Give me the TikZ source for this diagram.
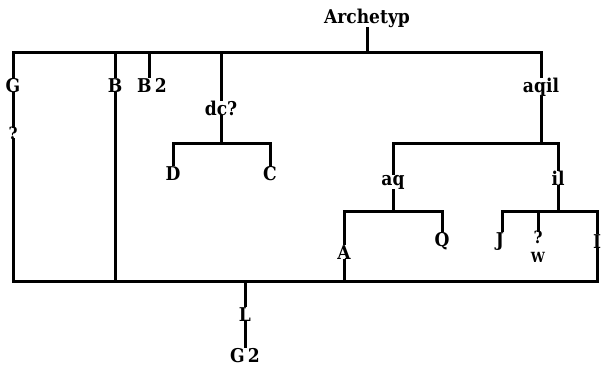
\documentclass[tikz,border=0pt]{standalone}
\usepackage{fontspec}
\setmainfont[FakeStretch=0.9]{DejaVu Serif}
\begin{document}
\begin{tikzpicture}[x=1pt,y=-1pt,
  lbl/.style={font=\fontsize{19}{19}\selectfont\bfseries, inner sep=1pt, anchor=base},
  smalllbl/.style={font=\fontsize{14}{14}\selectfont\bfseries, inner sep=1pt, anchor=base},
  qmark/.style={font=\fontsize{17}{17}\selectfont\bfseries, inner sep=0pt, anchor=base},
  ln/.style={line width=3pt, line cap=rect}]
\useasboundingbox (0,0) rectangle (602,368);
% labels
\node[lbl] (arch) at (367,23) {Archetyp};
\node[lbl] (G) at (13,92) {G};
\node[lbl] (B) at (115,92) {B};
\node[lbl] (B2) at (152,92) {B\,2};
\node[lbl] (dc) at (221,115) {dc?};
\node[lbl] (aqil) at (541,92) {aqil};
\node[lbl] (D) at (173,180) {D};
\node[lbl] (C) at (270,180) {C};
\node[lbl] (aq) at (393,185) {aq};
\node[lbl] (il) at (558,185) {il};
\node[lbl] (A) at (344,259) {A};
\node[lbl] (Q) at (442,246) {Q};
\node[lbl] (J) at (500,246) {J};
\node[smalllbl] (W) at (538,262) {W};
\node[qmark] (Wq) at (538,243) {?};
\node[lbl] (I) at (597,248) {I};
\node[qmark] (Gq) at (13,139) {?};
\node[lbl] (L) at (245,321) {L};
\node[lbl] (G2) at (245,362) {G\,2};
% bar levels
\coordinate (bar) at (0,52);
\coordinate (dcbar) at (0,143);
\coordinate (aqbar) at (0,143);
\coordinate (subbar) at (0,211);
\coordinate (bot) at (0,281);
% top level
\draw[ln] (arch.south) -- (arch.south |- bar);
\draw[ln] (G.north) -- (G.north |- bar) -- (aqil.north |- bar) -- (aqil.north);
\draw[ln] (B.north) -- (B.north |- bar);
\draw[ln] ([xshift=-3pt]B2.north) -- ([xshift=-3pt]B2.north |- bar);
\draw[ln] (dc.north) -- (dc.north |- bar);
% dc? branch
\draw[ln] (dc.south) -- (dc.south |- dcbar);
\draw[ln] (D.north) -- (D.north |- dcbar) -- (C.north |- dcbar) -- (C.north);
% aqil branch
\draw[ln] (aqil.south) -- (aqil.south |- aqbar);
\draw[ln] (aq.north) -- (aq.north |- aqbar) -- (il.north |- aqbar) -- (il.north);
\draw[ln] (aq.south) -- (aq.south |- subbar);
\draw[ln] (A.north) -- (A.north |- subbar) -- (Q.north |- subbar) -- (Q.north);
\draw[ln] (il.south) -- (il.south |- subbar);
\draw[ln] ([xshift=2pt]J.north) -- ([xshift=2pt]J.north |- subbar) -- (I.north |- subbar) -- (I.north);
\draw[ln] (Wq.north) -- (Wq.north |- subbar);
% G column and bottom bar
\draw[ln] (G.south) -- (Gq.north);
\draw[ln] (Gq.south) -- (Gq.south |- bot) -- (I.south |- bot) -- (I.south);
\draw[ln] (B.south) -- (B.south |- bot);
\draw[ln] (A.south) -- (A.south |- bot);
\draw[ln] (L.north) -- (L.north |- bot);
\draw[ln] (L.south) -- (G2.north);
\end{tikzpicture}
\end{document}
